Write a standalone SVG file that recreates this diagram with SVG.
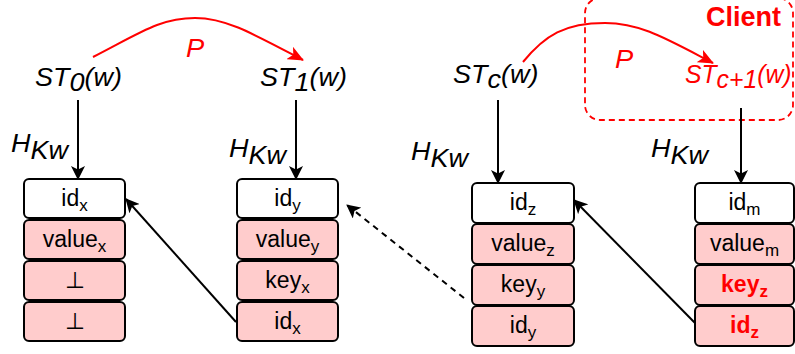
<svg xmlns="http://www.w3.org/2000/svg" width="795" height="354" viewBox="0 0 795 354">
  <style>
    .lbl { font-family: "Liberation Sans", Arial, sans-serif; font-size: 25px; font-style: italic; fill: #000; }
    .red { fill: #ff0000; }
    .cell { stroke: #000; stroke-width: 2; }
    .top { fill: #ffffff; }
    .pink { fill: #ffcccc; }
    .txt { font-family: "Liberation Sans", Arial, sans-serif; font-size: 23px; text-anchor: middle; fill: #000; }
    .sub { font-size: 17px; }
    .bold { font-weight: bold; fill: #ff0000; }
    .edge { fill: none; stroke: #000; stroke-width: 2; }
    .redge { fill: none; stroke: #ff0000; stroke-width: 2; }
  </style>
  <defs>
    <marker id="arrow" viewBox="0 0 14 14" refX="13" refY="7" markerWidth="14" markerHeight="14" markerUnits="userSpaceOnUse" orient="auto">
      <path d="M0,0 L14,7 L0,14 L3.5,7 Z" fill="#000"/>
    </marker>
    <marker id="arrowRed" viewBox="0 0 16 14" refX="15" refY="7" markerWidth="16" markerHeight="14" markerUnits="userSpaceOnUse" orient="auto">
      <path d="M0,0 L16,7 L0,14 L4,7 Z" fill="#ff0000"/>
    </marker>
  </defs>

  <!-- client region -->
  <g id="client">
    <rect x="585" y="-2" width="208" height="122" rx="15" fill="none" stroke="#ff0000" stroke-width="1.8" stroke-dasharray="6,4"/>
    <text x="706" y="26" font-family="Liberation Sans, Arial, sans-serif" font-size="27" font-weight="bold" fill="#ff0000">Client</text>
  </g>

  <!-- search tokens -->
  <g id="st0">
    <text class="lbl" transform="translate(35,86) scale(1.08,1)">ST<tspan dy="5">0</tspan><tspan dy="-5">(w)</tspan></text>
  </g>
  <g id="st1">
    <text class="lbl" transform="translate(260,86) scale(1.08,1)">ST<tspan dy="5">1</tspan><tspan dy="-5">(w)</tspan></text>
  </g>
  <g id="stc">
    <text class="lbl" transform="translate(453,83) scale(1.08,1)">ST<tspan dy="5">c</tspan><tspan dy="-5">(w)</tspan></text>
  </g>
  <g id="stc1">
    <text class="lbl red" transform="translate(685,83) scale(0.99,1)">ST<tspan dy="5">c+1</tspan><tspan dy="-5">(w)</tspan></text>
  </g>

  <!-- hash labels -->
  <g id="hkw-labels">
    <text class="lbl" transform="translate(11,152) scale(1.08,1)">H<tspan dy="7">Kw</tspan></text>
    <text class="lbl" transform="translate(229,157) scale(1.08,1)">H<tspan dy="7">Kw</tspan></text>
    <text class="lbl" transform="translate(411,160) scale(1.08,1)">H<tspan dy="7">Kw</tspan></text>
    <text class="lbl" transform="translate(651,157) scale(1.08,1)">H<tspan dy="7">Kw</tspan></text>
  </g>

  <!-- column 0 -->
  <g id="node-x">
    <rect class="cell top" x="24" y="179" width="101" height="39" rx="5"/>
    <rect class="cell pink" x="24" y="220" width="101" height="39" rx="5"/>
    <rect class="cell pink" x="24" y="261" width="101" height="39" rx="5"/>
    <rect class="cell pink" x="24" y="302" width="101" height="39" rx="5"/>
    <text class="txt" x="74.5" y="206">id<tspan class="sub" dy="5">x</tspan></text>
    <text class="txt" x="74.5" y="247">value<tspan class="sub" dy="5">x</tspan></text>
    <text class="txt" x="74.5" y="288">⊥</text>
    <text class="txt" x="74.5" y="329">⊥</text>
  </g>

  <!-- column 1 -->
  <g id="node-y">
    <rect class="cell top" x="237" y="179" width="101" height="39" rx="5"/>
    <rect class="cell pink" x="237" y="220" width="101" height="39" rx="5"/>
    <rect class="cell pink" x="237" y="261" width="101" height="39" rx="5"/>
    <rect class="cell pink" x="237" y="302" width="101" height="39" rx="5"/>
    <text class="txt" x="287.5" y="206">id<tspan class="sub" dy="5">y</tspan></text>
    <text class="txt" x="287.5" y="247">value<tspan class="sub" dy="5">y</tspan></text>
    <text class="txt" x="287.5" y="288">key<tspan class="sub" dy="5">x</tspan></text>
    <text class="txt" x="287.5" y="329">id<tspan class="sub" dy="5">x</tspan></text>
  </g>

  <!-- column c -->
  <g id="node-z">
    <rect class="cell top" x="472" y="183" width="102" height="40" rx="5"/>
    <rect class="cell pink" x="472" y="224" width="102" height="40" rx="5"/>
    <rect class="cell pink" x="472" y="265" width="102" height="40" rx="5"/>
    <rect class="cell pink" x="472" y="306" width="102" height="40" rx="5"/>
    <text class="txt" x="523" y="210">id<tspan class="sub" dy="5">z</tspan></text>
    <text class="txt" x="523" y="251">value<tspan class="sub" dy="5">z</tspan></text>
    <text class="txt" x="523" y="292">key<tspan class="sub" dy="5">y</tspan></text>
    <text class="txt" x="523" y="333">id<tspan class="sub" dy="5">y</tspan></text>
  </g>

  <!-- column c+1 -->
  <g id="node-m">
    <rect class="cell top" x="695" y="183" width="99" height="40" rx="5"/>
    <rect class="cell pink" x="695" y="224" width="99" height="40" rx="5"/>
    <rect class="cell pink" x="695" y="265" width="99" height="40" rx="5"/>
    <rect class="cell pink" x="695" y="306" width="99" height="40" rx="5"/>
    <text class="txt" x="744.5" y="210">id<tspan class="sub" dy="5">m</tspan></text>
    <text class="txt" x="744.5" y="251">value<tspan class="sub" dy="5">m</tspan></text>
    <text class="txt bold" x="744.5" y="292">key<tspan class="sub" dy="5">z</tspan></text>
    <text class="txt bold" x="744.5" y="333">id<tspan class="sub" dy="5">z</tspan></text>
  </g>

  <!-- connectors -->
  <g id="connectors">
    <line class="edge" x1="78" y1="100" x2="78" y2="179" marker-end="url(#arrow)"/>
    <line class="edge" x1="296" y1="100" x2="296" y2="179" marker-end="url(#arrow)"/>
    <line class="edge" x1="498" y1="100" x2="498" y2="183" marker-end="url(#arrow)"/>
    <line class="edge" x1="741" y1="108" x2="741" y2="183" marker-end="url(#arrow)"/>
    <line class="edge" x1="236" y1="322" x2="126" y2="199" marker-end="url(#arrow)"/>
    <line class="edge" x1="464" y1="298" x2="347" y2="205" stroke-dasharray="6,5" marker-end="url(#arrow)"/>
    <line class="edge" x1="695" y1="323" x2="574" y2="200" marker-end="url(#arrow)"/>
    <path class="redge" d="M93,57 C140,33 160,18 195,18 C225,18 250,32 303,60" marker-end="url(#arrowRed)"/>
    <path class="redge" d="M523,62 C545,35 565,23 605,23 C640,23 665,38 713,63" marker-end="url(#arrowRed)"/>
    <text class="lbl red" transform="translate(186,57) scale(1.05,1)" style="font-size:26px">P</text>
    <text class="lbl red" transform="translate(615,68) scale(1.05,1)" style="font-size:26px">P</text>
  </g>
</svg>
